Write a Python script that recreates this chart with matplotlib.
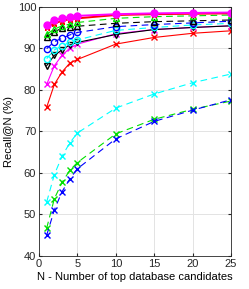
import numpy as np
import matplotlib.pyplot as plt

plt.rcParams['font.family'] = ['Liberation Sans', 'DejaVu Sans']

# Recall@N data, N = number of top database candidates
n = [1, 2, 3, 4, 5, 10, 15, 20, 25]

red_x = [75.8, 81.3, 84.3, 86.4, 87.3, 91.0, 92.6, 93.6, 94.2]
magenta_x = [81.3, 85.8, 88.3, 90.0, 91.0, 93.5, 94.5, 95.0, 95.4]
blue_dx = [45.0, 51.1, 55.5, 58.5, 61.0, 68.2, 72.4, 75.1, 77.6]
green_dx = [46.7, 53.8, 57.7, 60.6, 62.5, 69.4, 72.9, 75.3, 77.3]
cyan_dx = [53.0, 59.6, 64.0, 67.2, 69.6, 75.6, 79.0, 81.7, 83.8]
black_tri = [85.8, 88.3, 89.6, 90.8, 91.4, 93.3, 94.5, 95.0, 95.4]
cyan_o = [87.5, 89.6, 90.6, 91.4, 92.0, 94.3, 95.0, 95.6, 96.0]
blue_o = [89.9, 91.6, 92.4, 93.2, 93.8, 95.2, 95.7, 96.1, 96.5]
black_dtri = [92.8, 94.0, 94.8, 95.1, 95.3, 96.0, 96.4, 96.6, 96.8]
green_dtri = [93.4, 94.6, 95.4, 95.8, 96.2, 97.2, 97.6, 97.8, 98.0]
red_o = [95.0, 96.0, 96.6, 97.0, 97.2, 98.0, 98.2, 98.3, 98.4]
magenta_o = [95.6, 96.8, 97.2, 97.5, 97.8, 98.2, 98.4, 98.5, 98.6]

fig = plt.figure(figsize=(2.49, 2.89), dpi=100)
ax = fig.add_axes([39 / 249, 1 - 256 / 289, 192 / 249, 249.3 / 289])

ms = 4.5
lw = 0.8
dash = (6, 4)
green = '#00e000'
ax.plot(n, cyan_dx, '--', dashes=dash, color='cyan', marker='x', ms=ms, lw=lw)
ax.plot(n, green_dx, '--', dashes=dash, color=green, marker='x', ms=ms, lw=lw)
ax.plot(n, blue_dx, '--', dashes=dash, color='blue', marker='x', ms=ms, lw=lw)
ax.plot(n, red_x, '-', color='red', marker='x', ms=ms, lw=lw)
ax.plot(n, magenta_x, '-', color='magenta', marker='x', ms=ms, lw=lw)
ax.plot(n, black_tri, '-', color='black', marker='v', mfc='none', ms=ms, lw=lw)
ax.plot(n, cyan_o, '--', dashes=dash, color='cyan', marker='o', mfc='none', ms=ms, lw=lw)
ax.plot(n, blue_o, '--', dashes=dash, color='blue', marker='o', mfc='none', ms=ms, lw=lw)
ax.plot(n, black_dtri, '--', dashes=dash, color='black', marker='^', mfc='none', ms=ms, lw=lw)
ax.plot(n, green_dtri, '--', dashes=dash, color=green, marker='^', mfc='none', ms=ms, lw=lw)
ax.plot(n, red_o, '-', color='red', marker='*', ms=ms, lw=1.4)
ax.plot(n, magenta_o, '-', color='magenta', marker='o', ms=ms + 0.5, lw=1.4)

ax.set_xlim(0, 25)
ax.set_ylim(40, 100)
ax.set_xticks([0, 5, 10, 15, 20, 25])
ax.set_yticks([40, 50, 60, 70, 80, 90, 100])
ax.grid(True, color='#e3e3e3', lw=0.7)
ax.tick_params(labelsize=8, direction='in', length=2.5, colors='#262626',
               top=True, right=True, pad=2)
for s in ax.spines.values():
    s.set_color('#262626')
    s.set_linewidth(0.6)
ax.set_xlabel('N - Number of top database candidates', fontsize=8, labelpad=2)
ax.set_ylabel('Recall@N (%)', fontsize=8, labelpad=3)

fig.savefig('out.png', dpi=100)
